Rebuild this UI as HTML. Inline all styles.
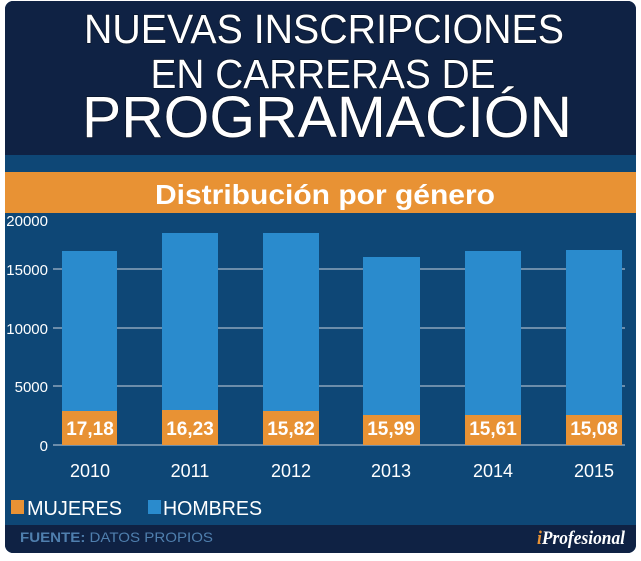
<!DOCTYPE html>
<html><head><meta charset="utf-8"><style>html,body{margin:0;padding:0;background:#fff}</style></head>
<body>
<svg width="641" height="556" viewBox="0 0 641 556" xmlns="http://www.w3.org/2000/svg" font-family="Liberation Sans, Arial, sans-serif">
<defs><clipPath id="c"><rect x="5" y="1" width="631" height="552" rx="8"/></clipPath></defs>
<g clip-path="url(#c)">
<rect x="0" y="0" width="641" height="556" fill="#0e4776"/>
<rect x="0" y="0" width="641" height="155" fill="#0f2244"/>
<rect x="0" y="172" width="641" height="41" fill="#e89234"/>
<rect x="0" y="525" width="641" height="31" fill="#0f2244"/>
</g>
<g fill="#fff" stroke="#000" stroke-opacity="0.4" stroke-width="1.5" paint-order="stroke" text-anchor="middle">
<text x="324" y="43" font-size="41" textLength="480" lengthAdjust="spacingAndGlyphs">NUEVAS INSCRIPCIONES</text>
<text x="323" y="88" font-size="41" textLength="345" lengthAdjust="spacingAndGlyphs">EN CARRERAS DE</text>
<text x="327" y="137" font-size="58" textLength="490" lengthAdjust="spacingAndGlyphs">PROGRAMACIÓN</text>
</g>
<text x="325" y="204" font-size="28" font-weight="bold" fill="#fff" text-anchor="middle" textLength="340" lengthAdjust="spacingAndGlyphs">Distribución por género</text>
<g stroke="#c9d3de" stroke-width="1">
<line x1="53" y1="269" x2="625" y2="269"/><line x1="53" y1="328" x2="625" y2="328"/>
<line x1="53" y1="386" x2="625" y2="386"/><line x1="53" y1="445" x2="625" y2="445"/>
</g>
<g fill="#fff" font-size="15" text-anchor="end">
<text x="48" y="226">20000</text><text x="48" y="275">15000</text><text x="48" y="334">10000</text><text x="48" y="392">5000</text><text x="48" y="451">0</text>
</g>
<g fill="#2a8bcd">
<rect x="62" y="251" width="55" height="194"/><rect x="162" y="233" width="56" height="212"/>
<rect x="263" y="233" width="56" height="212"/><rect x="363" y="257" width="57" height="188"/>
<rect x="465" y="251" width="56" height="194"/><rect x="566" y="250" width="56" height="195"/>
</g>
<g fill="#e89234">
<rect x="62" y="411" width="55" height="34"/><rect x="162" y="410" width="56" height="35"/>
<rect x="263" y="411" width="56" height="34"/><rect x="363" y="415" width="57" height="30"/>
<rect x="465" y="415" width="56" height="30"/><rect x="566" y="415" width="56" height="30"/>
</g>
<g fill="#fff" font-size="19" font-weight="bold" text-anchor="middle">
<text x="90" y="435">17,18</text><text x="190" y="435">16,23</text><text x="291" y="435">15,82</text>
<text x="391" y="435">15,99</text><text x="493" y="435">15,61</text><text x="594" y="435">15,08</text>
</g>
<g fill="#fff" font-size="18" text-anchor="middle">
<text x="90" y="477">2010</text><text x="190" y="477">2011</text><text x="291" y="477">2012</text>
<text x="391" y="477">2013</text><text x="493" y="477">2014</text><text x="594" y="477">2015</text>
</g>
<rect x="11" y="500" width="13" height="14" fill="#e89234"/>
<text x="27" y="515" fill="#fff" font-size="20" textLength="95" lengthAdjust="spacingAndGlyphs">MUJERES</text>
<rect x="148" y="500" width="13" height="14" fill="#2a8bcd"/>
<text x="163" y="515" fill="#fff" font-size="20" textLength="99" lengthAdjust="spacingAndGlyphs">HOMBRES</text>
<text x="20" y="542" fill="#4f7fae" font-size="14" textLength="193" lengthAdjust="spacingAndGlyphs"><tspan font-weight="bold">FUENTE:</tspan> DATOS PROPIOS</text>
<text x="537" y="544" fill="#fff" font-size="19" font-style="italic" font-weight="bold" font-family="Liberation Serif, serif" textLength="88" lengthAdjust="spacingAndGlyphs"><tspan fill="#e89234">i</tspan>Profesional</text>
</svg>
</body></html>
